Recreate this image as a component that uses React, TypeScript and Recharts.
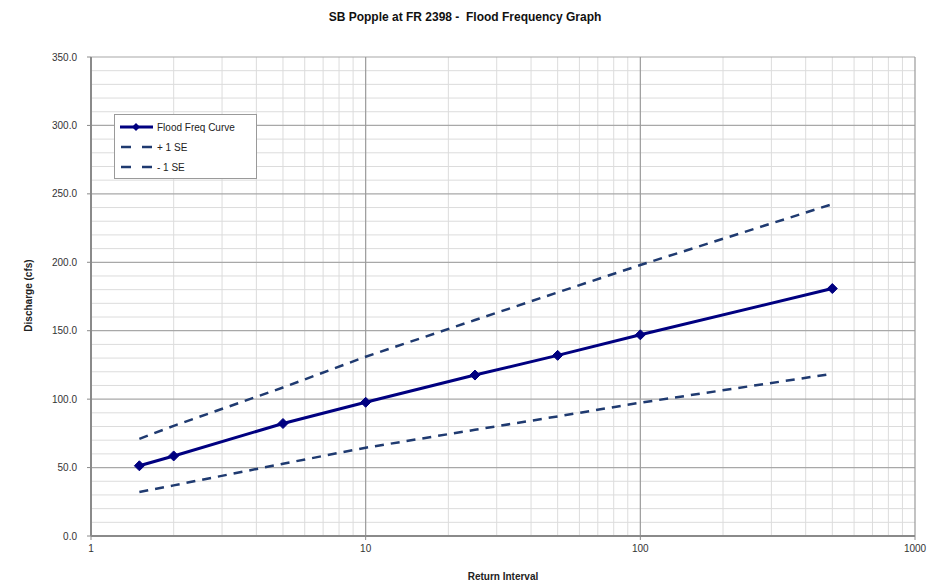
import React from "react";
import { LineChart, Line, XAxis, YAxis, ReferenceLine, Legend } from "recharts";

const returnIntervals = [1.5, 2, 5, 10, 25, 50, 100, 500];
const floodFreq = [51.3, 58.5, 82.2, 97.7, 117.6, 132.0, 147.0, 180.8];
const plusOneSE = [71.0, 80.5, 108.5, 131.0, 157.8, 178.0, 198.0, 242.5];
const minusOneSE = [32.2, 37.0, 52.8, 64.5, 77.6, 87.4, 97.4, 118.5];

const xTicks = [1, 10, 100, 1000];
const xMinor = [2, 3, 4, 5, 6, 7, 8, 9, 20, 30, 40, 50, 60, 70, 80, 90, 200, 300, 400, 500, 600, 700, 800, 900];
const yTicks = [0, 50, 100, 150, 200, 250, 300, 350];
const yMinor = [10, 20, 30, 40, 60, 70, 80, 90, 110, 120, 130, 140, 160, 170, 180, 190, 210, 220, 230, 240, 260, 270, 280, 290, 310, 320, 330, 340];

const seriesNames = ["Flood Freq Curve", "+ 1 SE", "- 1 SE"];

const data = returnIntervals.map((ri, i) => ({
  ri,
  flood: floodFreq[i],
  plus: plusOneSE[i],
  minus: minusOneSE[i],
}));

const FONT = "'Liberation Sans', Arial, sans-serif";

const Diamond = (props: any) => {
  const { cx, cy } = props;
  if (cx == null || cy == null) return null;
  const r = 5;
  return (
    <path
      d={`M${cx},${cy - r}L${cx + r},${cy}L${cx},${cy + r}L${cx - r},${cy}Z`}
      fill="#000080"
      stroke="#000080"
    />
  );
};

const LegendBox = (props: any) => {
  const payload = props.payload || [];
  return (
    <div
      style={{
        width: 141,
        height: 63,
        border: "1px solid #9a9a9a",
        background: "#fff",
        fontFamily: FONT,
        fontSize: 10,
        color: "#222",
        boxSizing: "content-box",
      }}
    >
      {payload.map((p: any, i: number) => (
        <div key={i} style={{ display: "flex", alignItems: "center", height: 20, marginTop: i === 0 ? 2 : 0 }}>
          <svg width={38} height={10} style={{ marginLeft: 4 }}>
            {i === 0 ? (
              <>
                <line x1={1} y1={5} x2={34} y2={5} stroke="#000080" strokeWidth={3} />
                <path d="M17,1L21,5L17,9L13,5Z" fill="#000080" />
              </>
            ) : (
              <line x1={2} y1={5} x2={33} y2={5} stroke="#1f3a70" strokeWidth={2.5} strokeDasharray="10 11" />
            )}
          </svg>
          <span>{seriesNames[i] ?? p.value}</span>
        </div>
      ))}
    </div>
  );
};

export default function App() {
  return (
    <div style={{ position: "absolute", left: 0, top: 0, width: 947, height: 587, background: "#fff" }}>
      <div
        style={{
          position: "absolute",
          left: 0,
          width: 930,
          top: 10,
          textAlign: "center",
          whiteSpace: "pre",
          fontFamily: FONT,
          fontWeight: "bold",
          fontSize: 12,
          color: "#111",
        }}
      >
        {"SB Popple at FR 2398 -  Flood Frequency Graph"}
      </div>
      <div
        style={{
          position: "absolute",
          left: 403,
          width: 200,
          top: 571,
          textAlign: "center",
          fontFamily: FONT,
          fontWeight: "bold",
          fontSize: 10,
          color: "#222",
        }}
      >
        Return Interval
      </div>
      <div
        style={{
          position: "absolute",
          left: 28 - 100,
          top: 297 - 7,
          width: 200,
          textAlign: "center",
          transform: "rotate(-90deg)",
          fontFamily: FONT,
          fontWeight: "bold",
          fontSize: 10,
          color: "#222",
        }}
      >
        Discharge (cfs)
      </div>
      <LineChart
        width={947}
        height={587}
        data={data}
        margin={{ top: 57, right: 32, bottom: 21, left: 31 }}
      >
        {yMinor.map((v) => (
          <ReferenceLine key={"ym" + v} y={v} stroke="#dcdcdc" strokeWidth={1} />
        ))}
        {xMinor.map((v) => (
          <ReferenceLine key={"xm" + v} x={v} stroke="#dcdcdc" strokeWidth={1} />
        ))}
        {yTicks.filter((v) => v > 0).map((v) => (
          <ReferenceLine key={"yM" + v} y={v} stroke="#a8a8a8" strokeWidth={1.2} />
        ))}
        {xTicks.filter((v) => v > 1).map((v) => (
          <ReferenceLine key={"xM" + v} x={v} stroke="#9a9a9a" strokeWidth={1.2} />
        ))}
        <XAxis
          dataKey="ri"
          type="number"
          scale="log"
          domain={[1, 1000]}
          ticks={xTicks}
          allowDataOverflow
          height={30}
          axisLine={{ stroke: "#8a8a8a", strokeWidth: 2 }}
          tickLine={{ stroke: "#8a8a8a" }}
          tickSize={4}
          tickMargin={5}
          tick={{ fill: "#333", fontSize: 10, fontFamily: FONT }}
          interval={0}
        />
        <YAxis
          type="number"
          domain={[0, 350]}
          ticks={yTicks}
          width={60}
          axisLine={{ stroke: "#8a8a8a", strokeWidth: 2 }}
          tickLine={{ stroke: "#8a8a8a" }}
          tickSize={4}
          tickMargin={10}
          tick={{ fill: "#333", fontSize: 10, fontFamily: FONT }}
          tickFormatter={(v: number) => v.toFixed(1)}
          interval={0}
        />
        <Legend
          layout="vertical"
          align="center"
          verticalAlign="middle"
          content={<LegendBox />}
          wrapperStyle={{ position: "absolute", left: 114, top: 114, width: 143 }}
        />
        <Line
          name={seriesNames[0]}
          dataKey="flood"
          stroke="#000080"
          strokeWidth={3}
          dot={<Diamond />}
          activeDot={false}
          isAnimationActive={false}
        />
        <Line
          name={seriesNames[1]}
          dataKey="plus"
          stroke="#1f3a70"
          strokeWidth={2.5}
          strokeDasharray="9 7"
          dot={false}
          activeDot={false}
          isAnimationActive={false}
        />
        <Line
          name={seriesNames[2]}
          dataKey="minus"
          stroke="#1f3a70"
          strokeWidth={2.5}
          strokeDasharray="9 7"
          dot={false}
          activeDot={false}
          isAnimationActive={false}
        />
      </LineChart>
    </div>
  );
}
